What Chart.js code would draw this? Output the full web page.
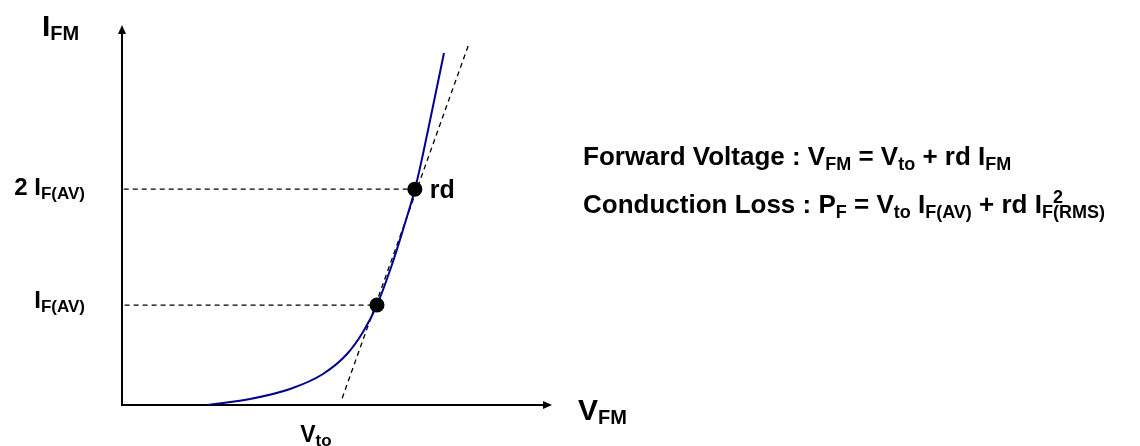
<!DOCTYPE html>
<html>
<head>
<meta charset="utf-8">
<script src="https://cdn.jsdelivr.net/npm/chart.js@4/dist/chart.umd.min.js"></script>
<style>
  html, body { margin: 0; padding: 0; background: #ffffff; }
  #wrap { width: 1140px; height: 446px; }
</style>
</head>
<body>
<div id="wrap"><canvas id="c" width="1140" height="446"></canvas></div>
<script>
// ---- Data (normalized units) ----
const curveV = [19.77, 29.77, 39.07, 46.74, 52.33, 56.05, 59.30, 62.91, 65.26, 68.14, 70.00, 72.33, 74.88];
const curveI = [0.00, 1.58, 4.21, 8.16, 13.42, 19.21, 26.32, 37.37, 45.79, 56.84, 66.05, 78.68, 92.63];
const tangentV = [51.2, 80.5];
const tangentI = [1.8, 94.5];
const opV = [59.3, 68.1];        // operating points (I_F(AV), 2 I_F(AV))
const opI = [26.3, 56.8];
const vto = 51.2;                // threshold voltage on the V axis
const axisMax = 100;

const pts = (xs, ys) => xs.map((x, i) => ({ x: x, y: ys[i] }));

const FONT = '"Liberation Sans", Arial, Helvetica, sans-serif';
function rich(ctx, x, y, segs, align) {
  let total = 0;
  segs.forEach(s => { ctx.font = 'bold ' + s[1] + 'px ' + FONT; total += ctx.measureText(s[0]).width; });
  if (align === 'right') x -= total;
  segs.forEach(s => {
    ctx.font = 'bold ' + s[1] + 'px ' + FONT;
    ctx.fillText(s[0], x, y + (s[2] || 0));
    x += ctx.measureText(s[0]).width;
  });
  return x;
}

const diagram = {
  id: 'diagram',
  beforeDatasetsDraw(chart) {
    const ctx = chart.ctx, xs = chart.scales.x, ys = chart.scales.y;
    const x0 = xs.getPixelForValue(0), y0 = ys.getPixelForValue(0);
    const xt = xs.getPixelForValue(axisMax), yt = ys.getPixelForValue(axisMax);
    ctx.save();
    ctx.strokeStyle = '#000'; ctx.fillStyle = '#000'; ctx.lineWidth = 2;
    ctx.beginPath();
    ctx.moveTo(x0, yt + 8); ctx.lineTo(x0, y0); ctx.lineTo(xt - 8, y0);
    ctx.stroke();
    ctx.beginPath();
    ctx.moveTo(x0, yt); ctx.lineTo(x0 - 4, yt + 9); ctx.lineTo(x0 + 4, yt + 9); ctx.closePath(); ctx.fill();
    ctx.beginPath();
    ctx.moveTo(xt, y0); ctx.lineTo(xt - 9, y0 - 4); ctx.lineTo(xt - 9, y0 + 4); ctx.closePath(); ctx.fill();
    ctx.restore();
  },
  afterDatasetsDraw(chart) {
    const ctx = chart.ctx, xs = chart.scales.x, ys = chart.scales.y;
    const x0 = xs.getPixelForValue(0), y0 = ys.getPixelForValue(0);
    const yt = ys.getPixelForValue(axisMax), xt = xs.getPixelForValue(axisMax);
    ctx.save();
    ctx.fillStyle = '#000';
    ctx.textBaseline = 'alphabetic';
    // axis titles
    rich(ctx, x0 - 80, yt + 11, [['I', 30], ['FM', 20, 4]]);
    rich(ctx, xt + 26, y0 + 15, [['V', 30], ['FM', 20, 4]]);
    // V_to label
    rich(ctx, xs.getPixelForValue(vto) - 42, y0 + 37, [['V', 23], ['to', 17, 4]]);
    // current labels
    rich(ctx, x0 - 37, ys.getPixelForValue(opI[1]) + 6, [['2 I', 24], ['F(AV)', 17, 4]], 'right');
    rich(ctx, x0 - 37, ys.getPixelForValue(opI[0]) + 3, [['I', 24], ['F(AV)', 17, 4]], 'right');
    // rd label
    rich(ctx, xs.getPixelForValue(opV[1]) + 15, ys.getPixelForValue(opI[1]) + 9, [['rd', 25]]);
    // formulas
    const fx = 583, M = 26, S = 18;
    rich(ctx, fx, 165, [['Forward Voltage : V', M], ['FM', S, 5], [' = V', M], ['to', S, 5], [' + rd I', M], ['FM', S, 5]]);
    const xe = rich(ctx, fx, 213, [['Conduction Loss : P', M], ['F', S, 5], [' = V', M], ['to', S, 5], [' I', M], ['F(AV)', S, 5], [' + rd I', M], ['F', S, 5]]);
    rich(ctx, xe, 213, [['2', S, -10]]);
    rich(ctx, xe, 213, [['(RMS)', S, 5]]);
    ctx.restore();
  }
};

new Chart(document.getElementById('c'), {
  type: 'scatter',
  data: {
    datasets: [
      { label: 'points', data: pts(opV, opI), showLine: false, pointRadius: 7.5, pointHoverRadius: 7.5,
        backgroundColor: '#000', borderColor: '#000', borderWidth: 0 },
      { label: 'curve', data: pts(curveV, curveI), showLine: true, pointRadius: 0, borderColor: '#00008b',
        borderWidth: 2, cubicInterpolationMode: 'monotone', fill: false },
      { label: 'tangent', data: pts(tangentV, tangentI), showLine: true, pointRadius: 0, borderColor: '#000',
        borderWidth: 1.3, borderDash: [5, 4], fill: false },
      { label: 'h2', data: [{ x: 0.4, y: opI[1] }, { x: opV[1], y: opI[1] }], showLine: true, pointRadius: 0,
        borderColor: '#000', borderWidth: 1.2, borderDash: [5, 4] },
      { label: 'h1', data: [{ x: 0.6, y: opI[0] }, { x: opV[0], y: opI[0] }], showLine: true, pointRadius: 0,
        borderColor: '#000', borderWidth: 1.2, borderDash: [5, 4] }
    ]
  },
  options: {
    responsive: false,
    animation: false,
    devicePixelRatio: 1,
    layout: { padding: { left: 122, right: 588, top: 25, bottom: 41 } },
    plugins: { legend: { display: false }, tooltip: { enabled: false } },
    events: [],
    scales: {
      x: { type: 'linear', min: 0, max: axisMax, display: false },
      y: { type: 'linear', min: 0, max: axisMax, display: false }
    }
  },
  plugins: [diagram]
});
</script>
</body>
</html>
